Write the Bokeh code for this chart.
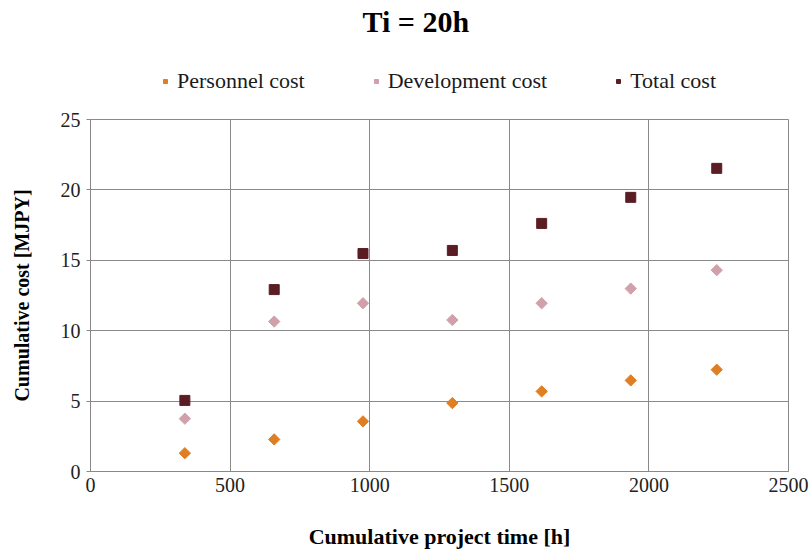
import numpy as np
from bokeh.plotting import figure
from bokeh.layouts import column
from bokeh.models import ColumnDataSource, Legend, LegendItem, FixedTicker, Title
from bokeh.embed import file_html
from bokeh.resources import INLINE

# Data
project_time = [338, 658, 976, 1296, 1616, 1935, 2243]
personnel_cost = [1.30, 2.28, 3.56, 4.86, 5.69, 6.47, 7.23]
development_cost = [3.75, 10.65, 11.95, 10.76, 11.95, 12.99, 14.30]
total_cost = [5.05, 12.92, 15.48, 15.70, 17.62, 19.47, 21.53]
x_ticks = [0, 500, 1000, 1500, 2000, 2500]
y_ticks = [0, 5, 10, 15, 20, 25]
series_names = ["Personnel cost", "Development cost", "Total cost"]

SERIF = "Liberation Serif"
C_PERS, C_DEV, C_TOT = "#E07E22", "#D1A1AB", "#5B1D24"

# ---------- header: title + legend ----------
head = figure(width=810, height=104, x_range=(0, 1), y_range=(0, 1),
              output_backend="svg", toolbar_location=None, title_location=None,
              min_border=0)
head.axis.visible = False
head.grid.visible = False
head.outline_line_color = None
head.add_layout(Title(text="Ti = 20h", align="left", text_font=SERIF,
                      text_font_size="30px", text_font_style="bold",
                      text_color="black", standoff=4, offset=272), "above")

# legend-only renderers (their single point lies outside the visible range)
hidden = ColumnDataSource(dict(x=[-5], y=[-5]))
h1 = head.scatter("x", "y", source=hidden, marker="square", angle=np.pi / 4,
                  size=7, fill_color=C_PERS, line_color=C_PERS)
h2 = head.scatter("x", "y", source=hidden, marker="square", angle=np.pi / 4,
                  size=7, fill_color=C_DEV, line_color=C_DEV)
h3 = head.scatter("x", "y", source=hidden, marker="square", size=8,
                  fill_color=C_TOT, line_color=C_TOT)
legend = Legend(items=[LegendItem(label=series_names[0], renderers=[h1]),
                       LegendItem(label=series_names[1], renderers=[h2]),
                       LegendItem(label=series_names[2], renderers=[h3])],
                orientation="horizontal", location=(70, 10),
                label_text_font=SERIF, label_text_font_size="22px",
                label_text_color="#1a1a1a", spacing=66, glyph_width=10,
                glyph_height=20, label_height=20,
                label_standoff=7, border_line_color=None,
                background_fill_alpha=0, padding=0, margin=0)
head.add_layout(legend, "center")

# ---------- main chart ----------
p = figure(width=810, height=454, x_range=(0, 2500), y_range=(0, 25),
           output_backend="svg", toolbar_location=None, title_location=None,
           min_border_left=90, min_border_right=22, min_border_top=15,
           min_border_bottom=87)

src = ColumnDataSource(dict(x=project_time, p=personnel_cost,
                            d=development_cost, t=total_cost))

p.scatter("x", "p", source=src, marker="square", angle=np.pi / 4, size=8,
          fill_color=C_PERS, line_color=C_PERS)
p.scatter("x", "d", source=src, marker="square", angle=np.pi / 4, size=8,
          fill_color=C_DEV, line_color=C_DEV)
p.scatter("x", "t", source=src, marker="square", size=10,
          fill_color=C_TOT, line_color=C_TOT)

p.xaxis.ticker = FixedTicker(ticks=x_ticks)
p.yaxis.ticker = FixedTicker(ticks=y_ticks)
for ax in (p.xaxis[0], p.yaxis[0]):
    ax.major_label_text_font = SERIF
    ax.major_label_text_font_size = "20px"
    ax.major_label_text_color = "#222222"
    ax.axis_label_text_font = SERIF
    ax.axis_label_text_font_style = "bold"
    ax.axis_label_text_color = "black"
    ax.axis_line_color = "#888888"
    ax.major_tick_line_color = "#888888"
    ax.minor_tick_line_color = None
    ax.major_tick_in = 0

p.xaxis.axis_label = "Cumulative project time [h]"
p.yaxis.axis_label = "Cumulative cost [MJPY]"
p.xaxis.axis_label_text_font_size = "22px"
p.yaxis.axis_label_text_font_size = "20px"
p.xaxis.major_tick_out = 0
p.yaxis.major_tick_out = 4
p.xaxis.major_label_standoff = 6
p.yaxis.major_label_standoff = 6
p.xaxis.axis_label_standoff = 29
p.yaxis.axis_label_standoff = 25

p.grid.grid_line_color = "#8a8a8a"
p.grid.grid_line_width = 1
p.outline_line_color = "#8a8a8a"
p.background_fill_color = "white"
p.border_fill_color = "white"

layout = column(head, p, spacing=0)
open("out.html", "w").write(file_html(layout, INLINE))
